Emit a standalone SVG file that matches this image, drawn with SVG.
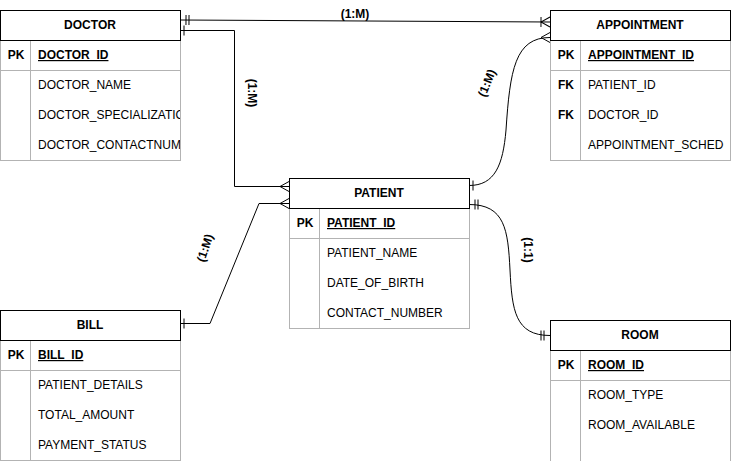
<svg xmlns="http://www.w3.org/2000/svg" width="731" height="461" viewBox="0 0 731 461">
<style>
.bg{fill:#ffffff}
.hdr{fill:#ffffff;stroke:#000000;stroke-width:1}
.body{fill:#ffffff;stroke:#b3b3b3;stroke-width:1}
.sep{stroke:#b3b3b3;stroke-width:1;fill:none}
text{font-family:"Liberation Sans",Arial,sans-serif;font-size:12px;fill:#000000}
.title{font-weight:bold;text-anchor:middle}
.key{font-weight:bold;text-anchor:middle}
.pk{text-decoration:underline;font-weight:bold}
.lbl{font-weight:bold;text-anchor:middle;dominant-baseline:central}
.edge{fill:none;stroke:#000000;stroke-width:1}
</style>
<defs>
<marker id="one" markerUnits="userSpaceOnUse" orient="auto-start-reverse" refX="0" refY="0" markerWidth="20" markerHeight="20" overflow="visible">
<path d="M-4,-5 L-4,5" stroke="#000" stroke-width="1" fill="none"/>
</marker>
<marker id="mandOne" markerUnits="userSpaceOnUse" orient="auto-start-reverse" refX="0" refY="0" markerWidth="20" markerHeight="20" overflow="visible">
<path d="M-6,-5 L-6,5 M-9,-5 L-9,5" stroke="#000" stroke-width="1" fill="none"/>
</marker>
<marker id="many" markerUnits="userSpaceOnUse" orient="auto-start-reverse" refX="0" refY="0" markerWidth="20" markerHeight="20" overflow="visible">
<path d="M0,-5 L-9,0 L0,5" stroke="#000" stroke-width="1" fill="none"/>
</marker>
<marker id="oneToMany" markerUnits="userSpaceOnUse" orient="auto-start-reverse" refX="0" refY="0" markerWidth="20" markerHeight="20" overflow="visible">
<path d="M0,-5 L-9,0 L0,5 M-9,-5 L-9,5" stroke="#000" stroke-width="1" fill="none"/>
</marker>
<clipPath id="clipDoctor"><rect x="0" y="40" width="180" height="121"/></clipPath>
</defs>
<rect class="bg" x="0" y="0" width="731" height="461"/>

<g id="connectors">
<path class="edge" d="M180,20 L550,22" marker-start="url(#mandOne)" marker-end="url(#oneToMany)"/>
<path class="edge" d="M180,30.5 L234.5,30.5 L234.5,186.5 L289,186.5" marker-start="url(#one)" marker-end="url(#many)"/>
<path class="edge" d="M180,323.5 L210,323.5 L259,203.5 L289,203.5" marker-start="url(#one)" marker-end="url(#many)"/>
<path class="edge" d="M469,185.5 C495,185.5 503,165 506,130 C510,70 515,37.5 550,37.5" marker-start="url(#one)" marker-end="url(#many)"/>
<path class="edge" d="M469,204.5 C505,204.5 508,230 510,270 C512,310 515,335.5 550,335.5" marker-start="url(#mandOne)" marker-end="url(#mandOne)"/>
<text class="lbl" x="355" y="14">(1:M)</text>
<text class="lbl" transform="translate(252,93) rotate(90)">(1:M)</text>
<text class="lbl" transform="translate(487,83) rotate(-68)">(1:M)</text>
<text class="lbl" transform="translate(205,248) rotate(-72)">(1:M)</text>
<text class="lbl" transform="translate(528,250) rotate(90)">(1:1)</text>
</g>

<g id="doctor">
<rect class="body" x="0.5" y="40.5" width="180" height="120"/>
<line class="sep" x1="0" y1="70.5" x2="180" y2="70.5"/>
<line class="sep" x1="30.5" y1="40" x2="30.5" y2="160"/>
<rect class="hdr" x="0.5" y="10.5" width="180" height="30"/>
<text class="title" x="90" y="29">DOCTOR</text>
<text class="key" x="16" y="59">PK</text>
<g clip-path="url(#clipDoctor)">
<text class="pk" x="38" y="59">DOCTOR_ID</text>
<text x="38" y="89">DOCTOR_NAME</text>
<text x="38" y="119">DOCTOR_SPECIALIZATION</text>
<text x="38" y="149">DOCTOR_CONTACTNUMBER</text>
</g>
</g>

<g id="appointment">
<rect class="body" x="550.5" y="40.5" width="180" height="120"/>
<line class="sep" x1="550" y1="70.5" x2="730" y2="70.5"/>
<line class="sep" x1="580.5" y1="40" x2="580.5" y2="160"/>
<rect class="hdr" x="550.5" y="10.5" width="180" height="30"/>
<text class="title" x="640" y="29">APPOINTMENT</text>
<text class="key" x="566" y="59">PK</text>
<text class="pk" x="588" y="59">APPOINTMENT_ID</text>
<text class="key" x="566" y="89">FK</text>
<text x="588" y="89">PATIENT_ID</text>
<text class="key" x="566" y="119">FK</text>
<text x="588" y="119">DOCTOR_ID</text>
<text x="588" y="149">APPOINTMENT_SCHED</text>
</g>

<g id="patient">
<rect class="body" x="289.5" y="208.5" width="180" height="120"/>
<line class="sep" x1="289" y1="238.5" x2="469" y2="238.5"/>
<line class="sep" x1="319.5" y1="208" x2="319.5" y2="328"/>
<rect class="hdr" x="289.5" y="178.5" width="180" height="30"/>
<text class="title" x="379" y="197">PATIENT</text>
<text class="key" x="305" y="227">PK</text>
<text class="pk" x="327" y="227">PATIENT_ID</text>
<text x="327" y="257">PATIENT_NAME</text>
<text x="327" y="287">DATE_OF_BIRTH</text>
<text x="327" y="317">CONTACT_NUMBER</text>
</g>

<g id="bill">
<rect class="body" x="0.5" y="340.5" width="180" height="120"/>
<line class="sep" x1="0" y1="370.5" x2="180" y2="370.5"/>
<line class="sep" x1="30.5" y1="340" x2="30.5" y2="460"/>
<rect class="hdr" x="0.5" y="310.5" width="180" height="30"/>
<text class="title" x="90" y="329">BILL</text>
<text class="key" x="16" y="359">PK</text>
<text class="pk" x="38" y="359">BILL_ID</text>
<text x="38" y="389">PATIENT_DETAILS</text>
<text x="38" y="419">TOTAL_AMOUNT</text>
<text x="38" y="449">PAYMENT_STATUS</text>
</g>

<g id="room">
<rect class="body" x="550.5" y="350.5" width="180" height="120"/>
<line class="sep" x1="550" y1="380.5" x2="730" y2="380.5"/>
<line class="sep" x1="580.5" y1="350" x2="580.5" y2="470"/>
<rect class="hdr" x="550.5" y="320.5" width="180" height="30"/>
<text class="title" x="640" y="339">ROOM</text>
<text class="key" x="566" y="369">PK</text>
<text class="pk" x="588" y="369">ROOM_ID</text>
<text x="588" y="399">ROOM_TYPE</text>
<text x="588" y="429">ROOM_AVAILABLE</text>
</g>
</svg>
